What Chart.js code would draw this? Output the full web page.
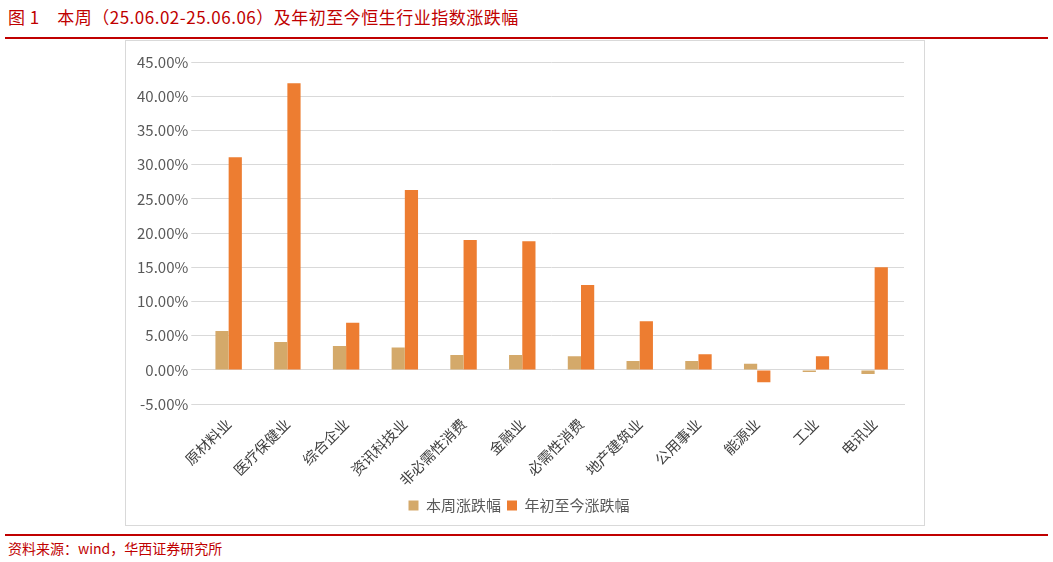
<!DOCTYPE html>
<html><head><meta charset="utf-8">
<script src="https://cdn.jsdelivr.net/npm/chart.js@4"></script>
<style>
body{margin:0;width:1053px;height:562px;background:#fff;font-family:"Noto Sans CJK SC","Noto Sans",sans-serif;position:relative;overflow:hidden}
#title{position:absolute;left:8px;top:4px;font-size:17px;color:#c00000;letter-spacing:0.5px}
#top{position:absolute;left:5px;right:5px;top:37px;border-top:2px solid #c00000}
#box{position:absolute;left:125px;top:40px;width:798px;height:484px;border:1px solid #d9d9d9}
#bot{position:absolute;left:5px;right:5px;top:534px;border-top:2px solid #c00000}
#src{position:absolute;left:8px;top:538px;font-size:14px;color:#c00000}
</style></head><body>
<div id="title">图 1　本周（25.06.02-25.06.06）及年初至今恒生行业指数涨跌幅</div>
<div id="top"></div>
<div id="box"><canvas id="c" width="798" height="484"></canvas></div>
<div id="bot"></div>
<div id="src">资料来源：wind，华西证券研究所</div>
<script>
const categories = ['原材料业','医疗保健业','综合企业','资讯科技业','非必需性消费','金融业','必需性消费','地产建筑业','公用事业','能源业','工业','电讯业'];
const weekly = [5.7, 4.1, 3.5, 3.3, 2.2, 2.2, 2.0, 1.3, 1.3, 0.9, -0.3, -0.6];
const ytd = [31.1, 41.9, 6.9, 26.3, 19.0, 18.8, 12.4, 7.1, 2.3, -1.8, 2.0, 15.0];
const font = { family: '"Noto Sans CJK SC", sans-serif', size: 14 };
new Chart(document.getElementById('c'), {
  type: 'bar',
  data: { labels: categories, datasets: [
    { label: '本周涨跌幅', data: weekly, backgroundColor: '#d4a96a', barPercentage: 1, categoryPercentage: 0.45 },
    { label: '年初至今涨跌幅', data: ytd, backgroundColor: '#ed7d31', barPercentage: 1, categoryPercentage: 0.45 }
  ]},
  options: {
    responsive: false, animation: false,
    layout: { padding: { left: 8, right: 20, top: 21, bottom: 2 } },
    plugins: {
      legend: { position: 'bottom', labels: { font: { ...font, size: 15 }, color: '#595959', boxWidth: 10, boxHeight: 10, padding: 6 } },
      tooltip: { enabled: false }
    },
    scales: {
      x: { grid: { display: false }, border: { color: '#d9d9d9' },
           ticks: { font: { ...font, size: 14.5 }, color: '#404040', maxRotation: 45, minRotation: 45, autoSkip: false } },
      y: { min: -5, max: 45, grid: { color: '#d9d9d9' }, border: { display: false },
           ticks: { stepSize: 5, font: { ...font, size: 15 }, color: '#595959', callback: v => v.toFixed(2) + '%' } }
    }
  }
});
</script>
</body></html>
